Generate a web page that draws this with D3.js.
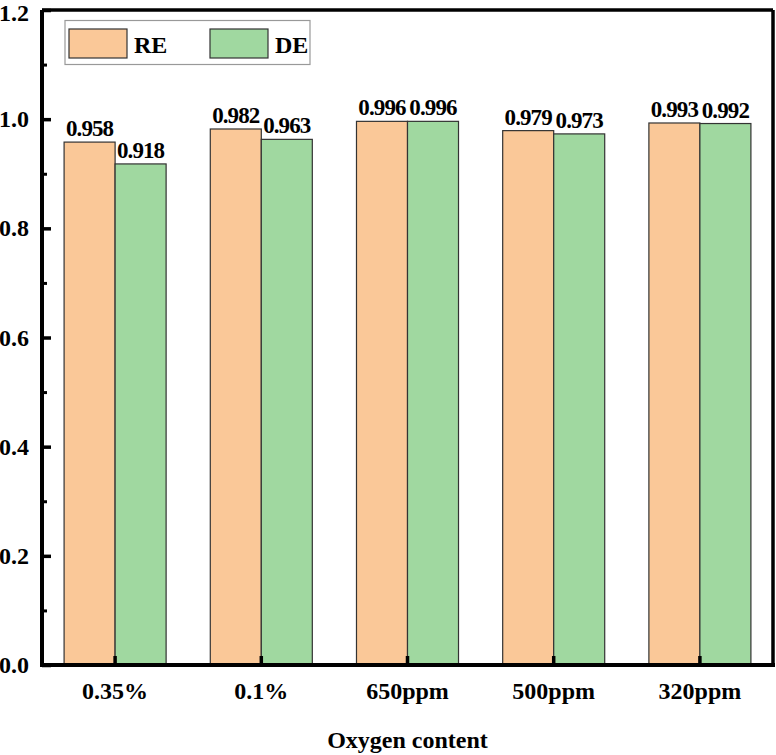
<!DOCTYPE html>
<html>
<head>
<meta charset="utf-8">
<script src="https://cdn.jsdelivr.net/npm/d3@7"></script>
<style>
  html, body { margin: 0; padding: 0; background: #fff; }
  svg { display: block; }
  text { font-family: "Liberation Serif", "Times New Roman", serif; font-weight: bold; fill: #000; }
</style>
</head>
<body>
<svg id="chart" width="776" height="755"></svg>
<script>
const categories = ["0.35%", "0.1%", "650ppm", "500ppm", "320ppm"];
const seriesNames = ["RE", "DE"];
const reValues = [0.958, 0.982, 0.996, 0.979, 0.993];
const deValues = [0.918, 0.963, 0.996, 0.973, 0.992];
const yTicks = [0, 0.2, 0.4, 0.6, 0.8, 1.0, 1.2];
const yMinorTicks = [0.1, 0.3, 0.5, 0.7, 0.9, 1.1];
const colors = { RE: "#FAC898", DE: "#A0D8A0" };
const xTitle = "Oxygen content";

(function () {
const svg = d3.select("#chart");
const mL = 42, mR = 773, mT = 10, mB = 665;
const fs = 24;

const x = d3.scaleBand().domain(categories).range([mL, mR]).paddingInner(0).paddingOuter(0);
const sub = d3.scaleBand().domain(seriesNames).range([0, x.bandwidth()]).paddingInner(0).paddingOuter(0.433);
const y = d3.scaleLinear().domain([0, 1.2]).range([mB, mT]);

const data = categories.map((c, i) => ({ cat: c, RE: reValues[i], DE: deValues[i] }));

const groups = svg.append("g").selectAll("g").data(data).join("g")
  .attr("transform", d => `translate(${x(d.cat)},0)`);
groups.selectAll("rect").data(d => seriesNames.map(k => ({ key: k, value: d[k] }))).join("rect")
  .attr("x", d => sub(d.key))
  .attr("y", d => y(d.value))
  .attr("width", sub.bandwidth())
  .attr("height", d => y(0) - y(d.value))
  .attr("fill", d => colors[d.key])
  .attr("stroke", "#333")
  .attr("stroke-width", 1.2);

groups.selectAll("text.val").data(d => seriesNames.map(k => ({ key: k, value: d[k] }))).join("text")
  .attr("class", "val")
  .attr("x", d => sub(d.key) + sub.bandwidth() / 2)
  .attr("y", d => y(d.value) - 6)
  .attr("text-anchor", "middle")
  .attr("font-size", 23)
  .attr("letter-spacing", "-0.9px")
  .text(d => d3.format(".3f")(d.value));

svg.append("line").attr("x1", mL).attr("x2", mR).attr("y1", mT).attr("y2", mT)
  .attr("stroke", "#000").attr("stroke-width", 3.5);
svg.append("line").attr("x1", mR).attr("x2", mR).attr("y1", mT).attr("y2", mB)
  .attr("stroke", "#000").attr("stroke-width", 3.5);

const yAxis = d3.axisRight(y).tickValues(yTicks).tickSize(9).tickFormat("");
const gy = svg.append("g").attr("transform", `translate(${mL},0)`).call(yAxis);
gy.select(".domain").attr("stroke-width", 4).attr("d", `M0,${mT}V${mB}`);
gy.selectAll(".tick line").attr("stroke-width", 3.5);
const yMinor = d3.axisRight(y).tickValues(yMinorTicks).tickSize(5).tickFormat("");
const gym = svg.append("g").attr("transform", `translate(${mL},0)`).call(yMinor);
gym.select(".domain").remove();
gym.selectAll(".tick line").attr("stroke-width", 3);
svg.append("g").selectAll("text").data(yTicks).join("text")
  .attr("x", 29).attr("y", d => Math.max(y(d) + 8, 21))
  .attr("text-anchor", "end").attr("font-size", fs)
  .text(d => d3.format(".1f")(d));

const xAxis = d3.axisTop(x).tickSize(9).tickFormat("");
const gx = svg.append("g").attr("transform", `translate(0,${mB})`).call(xAxis);
gx.select(".domain").attr("stroke-width", 4).attr("d", `M${mL - 2},0H${mR + 2}`);
gx.selectAll(".tick line").attr("stroke-width", 3.5);
svg.append("g").selectAll("text").data(categories).join("text")
  .attr("x", d => x(d) + x.bandwidth() / 2).attr("y", 699)
  .attr("text-anchor", "middle").attr("font-size", fs)
  .text(d => d);

svg.append("text").attr("x", (mL + mR) / 2).attr("y", 748)
  .attr("text-anchor", "middle").attr("font-size", fs).text(xTitle);

const lg = svg.append("g");
lg.append("rect").attr("x", 65).attr("y", 20.5).attr("width", 245).attr("height", 44)
  .attr("fill", "#fff").attr("stroke", "#999").attr("stroke-width", 1.2);
const legendPos = [{ key: "RE", sx: 69 }, { key: "DE", sx: 210 }];
legendPos.forEach(p => {
  lg.append("rect").attr("x", p.sx).attr("y", 29).attr("width", 58).attr("height", 29)
    .attr("fill", colors[p.key]).attr("stroke", "#333").attr("stroke-width", 1.2);
  lg.append("text").attr("x", p.sx + 65).attr("y", 53).attr("font-size", fs).text(p.key);
});
})();
</script>
</body>
</html>
